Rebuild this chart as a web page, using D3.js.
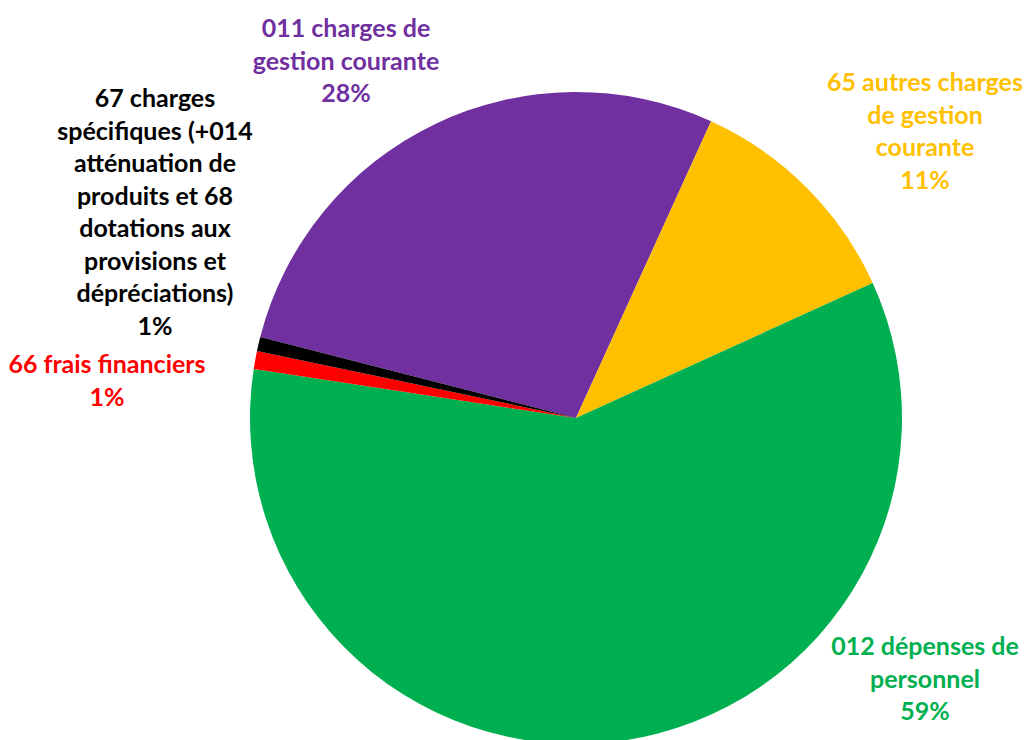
<!DOCTYPE html>
<html>
<head>
<meta charset="utf-8">
<script src="https://cdn.jsdelivr.net/npm/d3@7"></script>
<style>
  html, body { margin: 0; padding: 0; background: #fff; }
  svg { display: block; }
  text { font-family: Lato, "Open Sans", sans-serif; font-weight: bold; }
</style>
</head>
<body>
<div id="chart"></div>
<script>
// Data: budget chapters (clockwise order of the slices)
const categories = [
  ["011 charges de", "gestion courante"],
  ["65 autres charges", "de gestion", "courante"],
  ["012 dépenses de", "personnel"],
  ["66 frais financiers"],
  ["67 charges", "spécifiques (+014", "atténuation de", "produits et 68", "dotations aux", "provisions et", "dépréciations)"]
];
const values = [27.8, 11.4, 59.2, 0.9, 0.7];
const colors = ["#7030A0", "#FFC000", "#00B050", "#FF0000", "#000000"];

// Layout of the chart
const width = 1025, height = 740;
const cx = 576, cy = 418, radius = 326;
const startDeg = -75.6;
const fontSize = 25;
const lineHeight = 32.5;
// label anchors: centre x and baseline of the first line
const labelPos = [
  [346, 37],
  [925, 91],
  [925, 655],
  [107, 373],
  [155, 107]
];

const svg = d3.select("#chart").append("svg")
  .attr("width", width).attr("height", height);

const pie = d3.pie().sort(null).value(d => d)
  .startAngle(startDeg * Math.PI / 180)
  .endAngle(startDeg * Math.PI / 180 + 2 * Math.PI);

const arc = d3.arc().innerRadius(0).outerRadius(radius);

const total = d3.sum(values);

svg.append("g")
  .attr("transform", `translate(${cx},${cy})`)
  .selectAll("path")
  .data(pie(values))
  .join("path")
  .attr("d", arc)
  .attr("fill", (d, i) => colors[i]);

// Labels
const labels = svg.append("g");
categories.forEach((lines, i) => {
  const pct = Math.round(values[i] / total * 100) + "%";
  const t = labels.append("text")
    .attr("text-anchor", "middle")
    .attr("font-size", fontSize)
    .attr("fill", colors[i]);
  lines.concat([pct]).forEach((s, j) => {
    t.append("tspan")
      .attr("x", labelPos[i][0])
      .attr("y", labelPos[i][1] + j * lineHeight)
      .text(s);
  });
});
</script>
</body>
</html>
